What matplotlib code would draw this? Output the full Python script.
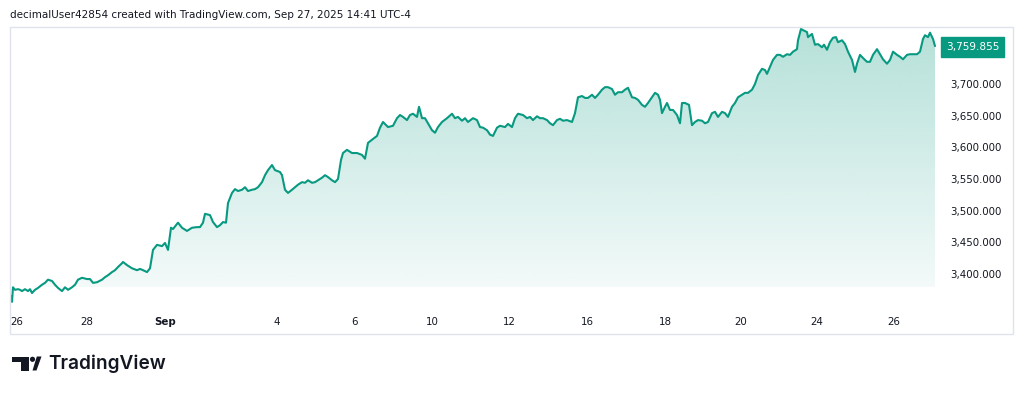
import matplotlib
matplotlib.use("Agg")
import matplotlib.pyplot as plt
import matplotlib.patches as patches
import numpy as np

# ── data (bar index, close) ─────────────────────────────────────────────
BARS = [
    0, 1, 2, 4, 7, 9, 11, 14, 17, 19,
    21, 24, 27, 31, 34, 37, 41, 44, 47, 51,
    54, 57, 61, 64, 67, 71, 76, 79, 82, 86,
    91, 94, 97, 101, 104, 107, 111, 112, 116, 121,
    126, 129, 132, 136, 139, 142, 146, 151, 154, 157,
    160, 162, 167, 171, 176, 181, 186, 189, 192, 194,
    199, 202, 206, 209, 212, 215, 217, 221, 224, 227,
    231, 234, 237, 241, 244, 247, 251, 254, 257, 261,
    264, 269, 271, 274, 277, 281, 284, 287, 291, 294,
    297, 301, 304, 307, 311, 314, 317, 321, 324, 327,
    330, 332, 336, 341, 346, 351, 354, 357, 361, 366,
    369, 372, 377, 382, 386, 389, 392, 396, 399, 402,
    406, 408, 411, 414, 417, 421, 424, 427, 431, 436,
    441, 444, 447, 451, 454, 457, 462, 466, 469, 472,
    476, 479, 482, 486, 489, 494, 497, 501, 504, 507,
    512, 516, 519, 522, 526, 529, 532, 536, 539, 542,
    546, 549, 552, 556, 561, 564, 567, 571, 574, 577,
    581, 584, 587, 591, 594, 597, 601, 604, 607, 611,
    614, 617, 621, 624, 627, 631, 634, 637, 641, 644,
    647, 649, 651, 654, 656, 659, 662, 666, 669, 671,
    674, 678, 681, 684, 687, 691, 694, 697, 701, 704,
    707, 711, 714, 717, 721, 724, 727, 731, 734, 737,
    741, 744, 747, 751, 754, 756, 759, 762, 766, 769,
    772, 776, 779, 782, 786, 787, 790, 792, 796, 797,
    801, 804, 807, 811, 813, 816, 819, 822, 825, 827,
    831, 834, 837, 841, 844, 846, 849, 852, 856, 859,
    862, 866, 869, 872, 876, 879, 882, 886, 889, 892,
    896, 899, 902, 906, 909, 912, 914, 917, 919, 922, 924,
]

CLOSE = [
    3365, 3356, 3379, 3375, 3376, 3375, 3373, 3376, 3373, 3376,
    3370, 3375, 3378, 3383, 3386, 3391, 3389, 3383, 3378, 3373,
    3379, 3375, 3379, 3383, 3391, 3394, 3392, 3392, 3386, 3387,
    3391, 3395, 3398, 3403, 3406, 3411, 3417, 3419, 3414, 3409,
    3406, 3408, 3406, 3403, 3409, 3438, 3446, 3444, 3449, 3438,
    3473, 3471, 3481, 3473, 3468, 3473, 3474, 3474, 3481, 3495,
    3493, 3482, 3474, 3477, 3482, 3481, 3512, 3528, 3534, 3531,
    3533, 3537, 3531, 3533, 3534, 3537, 3545, 3556, 3564, 3572,
    3564, 3561, 3556, 3533, 3528, 3533, 3537, 3541, 3545, 3544,
    3548, 3544, 3545, 3548, 3552, 3556, 3553, 3548, 3545, 3550,
    3580, 3591, 3596, 3591, 3591, 3588, 3582, 3607, 3612, 3618,
    3631, 3640, 3632, 3634, 3646, 3651, 3648, 3643, 3651, 3653,
    3648, 3664, 3646, 3646, 3638, 3627, 3623, 3632, 3640, 3646,
    3653, 3646, 3648, 3642, 3646, 3640, 3646, 3643, 3632, 3631,
    3627, 3620, 3618, 3631, 3634, 3632, 3637, 3632, 3646, 3653,
    3651, 3646, 3648, 3643, 3649, 3646, 3646, 3643, 3638, 3635,
    3643, 3645, 3642, 3643, 3640, 3654, 3679, 3681, 3678, 3678,
    3683, 3678, 3683, 3691, 3695, 3695, 3692, 3683, 3687, 3687,
    3691, 3694, 3679, 3678, 3675, 3667, 3664, 3670, 3679, 3686,
    3683, 3675, 3654, 3664, 3670, 3659, 3659, 3651, 3638, 3670,
    3670, 3667, 3635, 3640, 3643, 3642, 3638, 3640, 3654, 3656,
    3648, 3656, 3654, 3648, 3664, 3670, 3679, 3683, 3686, 3686,
    3691, 3700, 3714, 3724, 3722, 3716, 3727, 3738, 3746, 3746,
    3743, 3747, 3746, 3751, 3755, 3769, 3787, 3785, 3782, 3774,
    3779, 3762, 3763, 3758, 3762, 3754, 3766, 3773, 3774, 3766,
    3769, 3763, 3751, 3738, 3719, 3732, 3746, 3741, 3735, 3735,
    3746, 3755, 3747, 3739, 3732, 3738, 3751, 3746, 3743, 3739,
    3746, 3747, 3747, 3747, 3751, 3771, 3777, 3774, 3781, 3771, 3759.855,
]

DATE_TICKS = [5.7, 76, 154, 265.7, 343, 421, 498, 576, 654, 730, 806, 883]
DATE_LABELS = ["26", "28", "Sep", "4", "6", "10", "12", "16", "18", "20", "24", "26"]

PRICE_TICKS = [3400, 3450, 3500, 3550, 3600, 3650, 3700, 3750]

HEADER = "decimalUser42854 created with TradingView.com, Sep 27, 2025 14:41 UTC-4"

LINE_COLOR = "#089981"
TEXT_COLOR = "#131722"
BORDER_COLOR = "#e0e3eb"

W, H = 1024, 393


def px_box(x0, y0, x1, y1):
    """Figure-fraction rect from pixel box (top-left origin)."""
    return [x0 / W, 1 - y1 / H, (x1 - x0) / W, (y1 - y0) / H]


def draw_logo(fig):
    """Rough TradingView wordmark in the bottom-left corner."""
    k = dict(transform=fig.transFigure, color=TEXT_COLOR, zorder=5)

    def fx(x):
        return x / W

    def fy(y):
        return 1 - y / H

    # T shape
    fig.patches.append(patches.Rectangle((fx(12), fy(362)), 16.5 / W, 5.5 / H, lw=0, **k))
    fig.patches.append(patches.Rectangle((fx(20.5), fy(370.5)), 8 / W, 14 / H, lw=0, **k))
    # dot
    fig.patches.append(patches.Ellipse((fx(32.5), fy(359.3)), 5.2 / W, 5.2 / H, lw=0, **k))
    # slash
    fig.patches.append(patches.Polygon(
        [(fx(32.5), fy(370.5)), (fx(36.5), fy(370.5)), (fx(41.5), fy(356.5)), (fx(36.8), fy(356.5))],
        closed=True, lw=0, **k))
    fig.text(fx(48), fy(363.5), "TradingView", fontsize=13.7, fontweight="semibold",
             family="Inter", color=TEXT_COLOR, va="center", ha="left")


def main():
    fig = plt.figure(figsize=(W / 100, H / 100), dpi=100)
    fig.patch.set_facecolor("white")

    # outer panel frame
    fig.patches.append(patches.Rectangle(
        (10 / W, 1 - 334 / H), 1003 / W, 307 / H, transform=fig.transFigure,
        fill=False, ec=BORDER_COLOR, lw=1.0, zorder=0))

    fig.text(10 / W, 1 - 15 / H, HEADER, fontsize=7.5, color=TEXT_COLOR,
             ha="left", va="center", family="DejaVu Sans")

    ax = fig.add_axes(px_box(10, 28, 936, 308))
    ax.set_facecolor("none")
    x = np.array(BARS, dtype=float)
    y = np.array(CLOSE, dtype=float)

    ax.set_xlim(-1, 925)
    ax.set_ylim(3346.3, 3788.4)
    base = 3379.5

    # gradient area under the line
    poly = ax.fill_between(x, y, base, color="none", lw=0)
    path = poly.get_paths()[0]
    top = ax.get_ylim()[1]
    grad = np.linspace(0.30, 0.05, 256).reshape(-1, 1)
    rgba = np.zeros((256, 1, 4))
    rgba[..., 0] = 8 / 255
    rgba[..., 1] = 153 / 255
    rgba[..., 2] = 129 / 255
    rgba[..., 3] = grad
    im = ax.imshow(rgba, aspect="auto", extent=[x[0], x[-1], base, top],
                   origin="upper", interpolation="bilinear", zorder=1)
    im.set_clip_path(patches.PathPatch(path, transform=ax.transData, fc="none", ec="none"))

    ax.plot(x, y, color=LINE_COLOR, lw=1.5, solid_joinstyle="round",
            solid_capstyle="round", zorder=3, clip_on=False)

    for s in ax.spines.values():
        s.set_visible(False)

    ax.yaxis.tick_right()
    ax.set_yticks(PRICE_TICKS)
    ax.set_yticklabels([f"{v:,.3f}" for v in PRICE_TICKS])
    ax.tick_params(axis="y", length=0, pad=10, labelsize=7.4, labelcolor=TEXT_COLOR)

    ax.set_xticks(DATE_TICKS)
    ax.set_xticklabels(DATE_LABELS)
    ax.tick_params(axis="x", length=0, pad=6.5, labelsize=7.4, labelcolor=TEXT_COLOR)
    for lab in ax.get_xticklabels():
        if lab.get_text() == "Sep":
            lab.set_fontweight("bold")

    # last price badge (covers the 3,750 label, as in the original)
    last = CLOSE[-1]
    ax.annotate(f"{last:,.3f}", xy=(1.0, last), xycoords=("axes fraction", "data"),
                xytext=(10, -1), textcoords="offset pixels", ha="left", va="center",
                fontsize=7.6, color="white", zorder=10, annotation_clip=False,
                bbox=dict(boxstyle="square,pad=0.45", fc=LINE_COLOR, ec=LINE_COLOR))

    draw_logo(fig)

    fig.savefig("out.png", dpi=100, facecolor="white")


if __name__ == "__main__":
    main()
